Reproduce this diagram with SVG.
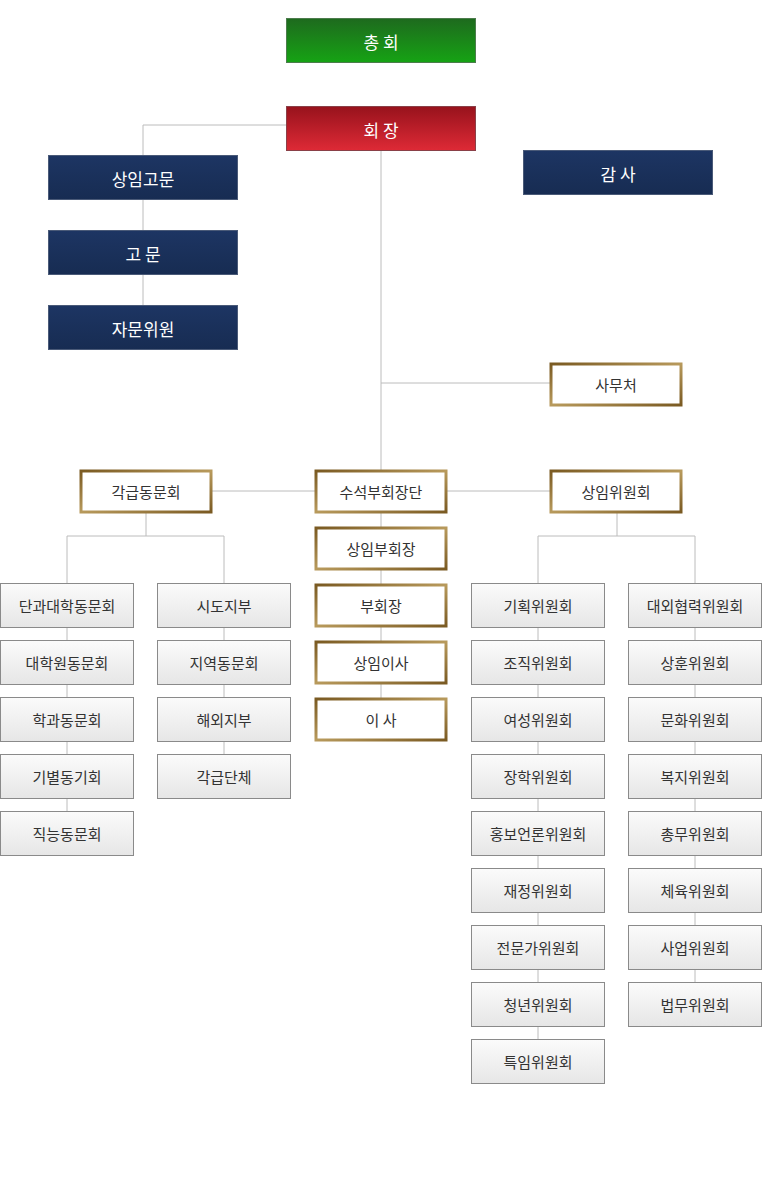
<svg xmlns="http://www.w3.org/2000/svg" width="762" height="1200" viewBox="0 0 762 1200">
<style>
text{font-family:"Noto Sans CJK KR","Noto Sans",sans-serif;text-anchor:middle;dominant-baseline:central}
.w{fill:#fff;font-size:17px}
.d{fill:#333;font-size:15px}
.navy{fill:url(#gn);stroke:#4a5a78;stroke-width:1}
.gold{fill:#fff;stroke:url(#gg);stroke-width:3}
.gray{fill:url(#gy);stroke:#8a8a8a;stroke-width:1}
.c line,.c polyline{stroke:#bcbcbc;stroke-width:1;fill:none}
</style>
<defs>
<linearGradient id="gG" x1="0" y1="0" x2="0" y2="1"><stop offset="0" stop-color="#1e6a1e"/><stop offset="1" stop-color="#16a314"/></linearGradient>
<linearGradient id="gR" x1="0" y1="0" x2="0" y2="1"><stop offset="0" stop-color="#97121c"/><stop offset="1" stop-color="#de2a36"/></linearGradient>
<linearGradient id="gn" x1="0" y1="0" x2="0" y2="1"><stop offset="0" stop-color="#1d3563"/><stop offset="1" stop-color="#172c52"/></linearGradient>
<linearGradient id="gg" x1="0" y1="0" x2="1" y2="1"><stop offset="0" stop-color="#7a5a22"/><stop offset="0.5" stop-color="#b89a5c"/><stop offset="1" stop-color="#7a5a22"/></linearGradient>
<linearGradient id="gy" x1="0" y1="0" x2="0" y2="1"><stop offset="0" stop-color="#fbfbfb"/><stop offset="1" stop-color="#e6e6e6"/></linearGradient>
</defs>
<g class="c">
<polyline points="286,125 143,125 143,305"/>
<line x1="381" y1="150" x2="381" y2="470"/>
<line x1="381" y1="383" x2="550" y2="383"/>
<line x1="212" y1="491" x2="550" y2="491"/>
<line x1="381" y1="513" x2="381" y2="698"/>
<polyline points="146,513 146,536 67,536 67,812"/>
<polyline points="146,536 224,536 224,755"/>
<polyline points="617,513 617,536 538,536 538,1040"/>
<polyline points="617,536 695,536 695,983"/>
</g>
<g id="n-chonghoe"><rect x="286.5" y="18.5" width="189" height="44" fill="url(#gG)" stroke="#4c7c4c"/><text class="w" x="381" y="41">총 회</text></g>
<g id="n-hoejang"><rect x="286.5" y="106.5" width="189" height="44" fill="url(#gR)" stroke="#8a4048"/><text class="w" x="381" y="129">회 장</text></g>
<g id="n-sangim-gomun"><rect class="navy" x="48.5" y="155.5" width="189" height="44"/><text class="w" x="143" y="178">상임고문</text></g>
<g id="n-gomun"><rect class="navy" x="48.5" y="230.5" width="189" height="44"/><text class="w" x="143" y="253">고 문</text></g>
<g id="n-jamun"><rect class="navy" x="48.5" y="305.5" width="189" height="44"/><text class="w" x="143" y="328">자문위원</text></g>
<g id="n-gamsa"><rect class="navy" x="523.5" y="150.5" width="189" height="44"/><text class="w" x="618" y="173">감 사</text></g>
<g id="n-samucheo"><rect class="gold" x="551" y="364" width="130" height="41"/><text class="d" x="616" y="384">사무처</text></g>
<g id="n-gakgeup"><rect class="gold" x="81" y="471" width="130" height="41"/><text class="d" x="146" y="491">각급동문회</text></g>
<g id="n-suseok"><rect class="gold" x="316" y="471" width="130" height="41"/><text class="d" x="381" y="491">수석부회장단</text></g>
<g id="n-sangimwi"><rect class="gold" x="551" y="471" width="130" height="41"/><text class="d" x="616" y="491">상임위원회</text></g>
<g id="n-sangimbu"><rect class="gold" x="316" y="528" width="130" height="41"/><text class="d" x="381" y="548">상임부회장</text></g>
<g id="n-buhoejang"><rect class="gold" x="316" y="585" width="130" height="41"/><text class="d" x="381" y="605">부회장</text></g>
<g id="n-sangimisa"><rect class="gold" x="316" y="642" width="130" height="41"/><text class="d" x="381" y="662">상임이사</text></g>
<g id="n-isa"><rect class="gold" x="316" y="699" width="130" height="41"/><text class="d" x="381" y="719">이 사</text></g>
<g id="n-c1-1"><rect class="gray" x="0.5" y="583.5" width="133" height="44"/><text class="d" x="67" y="605">단과대학동문회</text></g>
<g id="n-c1-2"><rect class="gray" x="0.5" y="640.5" width="133" height="44"/><text class="d" x="67" y="662">대학원동문회</text></g>
<g id="n-c1-3"><rect class="gray" x="0.5" y="697.5" width="133" height="44"/><text class="d" x="67" y="719">학과동문회</text></g>
<g id="n-c1-4"><rect class="gray" x="0.5" y="754.5" width="133" height="44"/><text class="d" x="67" y="776">기별동기회</text></g>
<g id="n-c1-5"><rect class="gray" x="0.5" y="811.5" width="133" height="44"/><text class="d" x="67" y="833">직능동문회</text></g>
<g id="n-c2-1"><rect class="gray" x="157.5" y="583.5" width="133" height="44"/><text class="d" x="224" y="605">시도지부</text></g>
<g id="n-c2-2"><rect class="gray" x="157.5" y="640.5" width="133" height="44"/><text class="d" x="224" y="662">지역동문회</text></g>
<g id="n-c2-3"><rect class="gray" x="157.5" y="697.5" width="133" height="44"/><text class="d" x="224" y="719">해외지부</text></g>
<g id="n-c2-4"><rect class="gray" x="157.5" y="754.5" width="133" height="44"/><text class="d" x="224" y="776">각급단체</text></g>
<g id="n-c3-1"><rect class="gray" x="471.5" y="583.5" width="133" height="44"/><text class="d" x="538" y="605">기획위원회</text></g>
<g id="n-c3-2"><rect class="gray" x="471.5" y="640.5" width="133" height="44"/><text class="d" x="538" y="662">조직위원회</text></g>
<g id="n-c3-3"><rect class="gray" x="471.5" y="697.5" width="133" height="44"/><text class="d" x="538" y="719">여성위원회</text></g>
<g id="n-c3-4"><rect class="gray" x="471.5" y="754.5" width="133" height="44"/><text class="d" x="538" y="776">장학위원회</text></g>
<g id="n-c3-5"><rect class="gray" x="471.5" y="811.5" width="133" height="44"/><text class="d" x="538" y="833">홍보언론위원회</text></g>
<g id="n-c3-6"><rect class="gray" x="471.5" y="868.5" width="133" height="44"/><text class="d" x="538" y="890">재정위원회</text></g>
<g id="n-c3-7"><rect class="gray" x="471.5" y="925.5" width="133" height="44"/><text class="d" x="538" y="947">전문가위원회</text></g>
<g id="n-c3-8"><rect class="gray" x="471.5" y="982.5" width="133" height="44"/><text class="d" x="538" y="1004">청년위원회</text></g>
<g id="n-c3-9"><rect class="gray" x="471.5" y="1039.5" width="133" height="44"/><text class="d" x="538" y="1061">특임위원회</text></g>
<g id="n-c4-1"><rect class="gray" x="628.5" y="583.5" width="133" height="44"/><text class="d" x="695" y="605">대외협력위원회</text></g>
<g id="n-c4-2"><rect class="gray" x="628.5" y="640.5" width="133" height="44"/><text class="d" x="695" y="662">상훈위원회</text></g>
<g id="n-c4-3"><rect class="gray" x="628.5" y="697.5" width="133" height="44"/><text class="d" x="695" y="719">문화위원회</text></g>
<g id="n-c4-4"><rect class="gray" x="628.5" y="754.5" width="133" height="44"/><text class="d" x="695" y="776">복지위원회</text></g>
<g id="n-c4-5"><rect class="gray" x="628.5" y="811.5" width="133" height="44"/><text class="d" x="695" y="833">총무위원회</text></g>
<g id="n-c4-6"><rect class="gray" x="628.5" y="868.5" width="133" height="44"/><text class="d" x="695" y="890">체육위원회</text></g>
<g id="n-c4-7"><rect class="gray" x="628.5" y="925.5" width="133" height="44"/><text class="d" x="695" y="947">사업위원회</text></g>
<g id="n-c4-8"><rect class="gray" x="628.5" y="982.5" width="133" height="44"/><text class="d" x="695" y="1004">법무위원회</text></g>
</svg>
